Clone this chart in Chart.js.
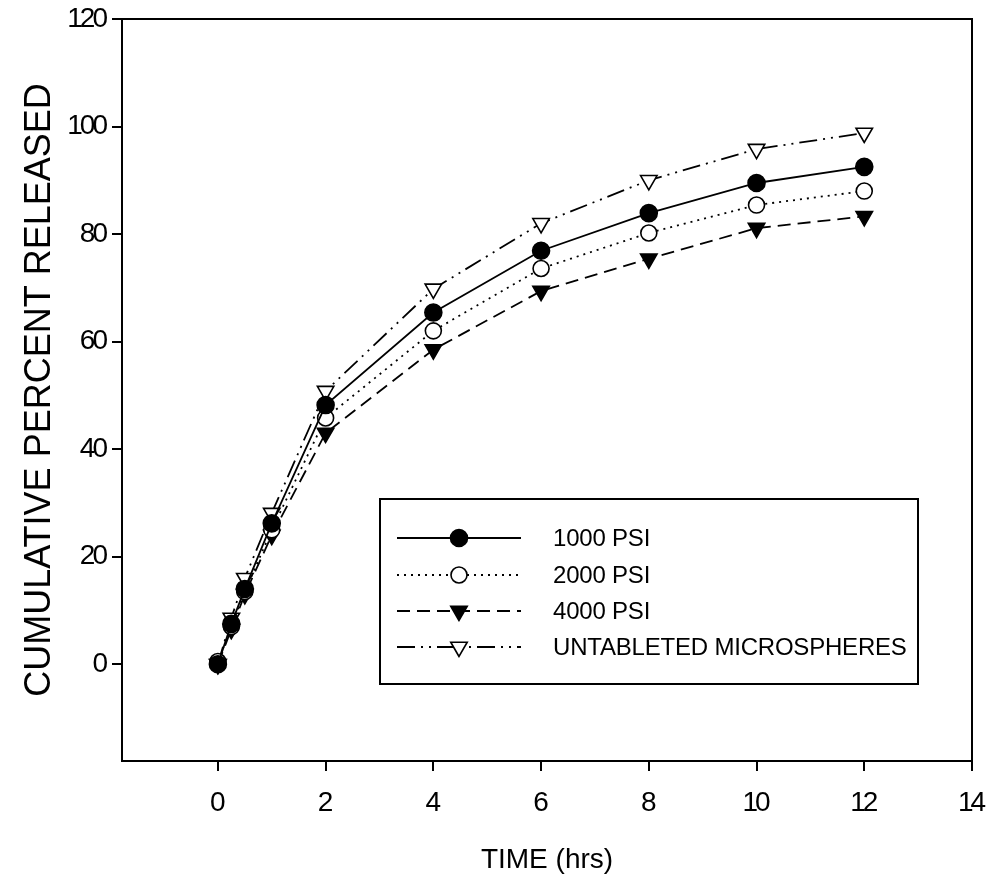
<!DOCTYPE html>
<html>
<head>
<meta charset="utf-8">
<title>Cumulative percent released</title>
<script src="https://cdn.jsdelivr.net/npm/chart.js@4/dist/chart.umd.min.js"></script>
<style>
  html, body { margin: 0; padding: 0; background: #fff; }
  canvas { display: block; }
</style>
</head>
<body>
<canvas id="myChart" width="992" height="888"></canvas>
<script>
// data
const times = [0, 0.25, 0.5, 1, 2, 4, 6, 8, 10, 12];
const psi1000 = [0, 7.5, 14, 26.2, 48.2, 65.4, 76.9, 83.9, 89.5, 92.5];
const psi2000 = [0.5, 7, 13.5, 25, 45.8, 62.0, 73.6, 80.2, 85.4, 88.0];
const psi4000 = [0, 6.5, 13, 24, 43.0, 58.5, 69.4, 75.4, 81.1, 83.3];
const untableted = [0, 8.6, 16, 28.1, 50.8, 69.8, 82.0, 90.0, 95.8, 98.8];
const seriesLabels = ['1000 PSI', '2000 PSI', '4000 PSI', 'UNTABLETED MICROSPHERES'];
const xTicks = [0, 2, 4, 6, 8, 10, 12, 14];
const yTicks = [0, 20, 40, 60, 80, 100, 120];

const FONT = "'Liberation Sans', Arial, sans-serif";

const looks = [
  { dash: [], style: 'circle', fill: '#000', radius: 8.5, rotation: 0 },
  { dash: [2, 5], style: 'circle', fill: '#fff', radius: 8, rotation: 0 },
  { dash: [13, 7], style: 'triangle', fill: '#000', radius: 9.5, rotation: 180 },
  { dash: [18, 6, 2, 6, 2, 6], style: 'triangle', fill: '#fff', radius: 9.5, rotation: 180 },
];

function makeSet(label, values, look) {
  return {
    label: label,
    data: times.map((t, i) => ({ x: t, y: values[i] })),
    borderColor: '#000',
    borderWidth: 1.8,
    borderDash: look.dash,
    pointStyle: look.style,
    pointRotation: look.rotation,
    pointRadius: look.radius,
    pointBackgroundColor: look.fill,
    pointBorderColor: '#000',
    pointBorderWidth: 1.6,
    fill: false,
    tension: 0,
  };
}

function drawMarker(ctx, look, x, y) {
  ctx.save();
  ctx.setLineDash([]);
  ctx.fillStyle = look.fill;
  ctx.strokeStyle = '#000';
  ctx.lineWidth = 1.6;
  ctx.beginPath();
  if (look.style === 'circle') {
    ctx.arc(x, y, look.radius, 0, Math.PI * 2);
  } else {
    let rad = look.rotation * Math.PI / 180;
    for (let k = 0; k < 3; k++) {
      const px = x + Math.sin(rad) * look.radius;
      const py = y - Math.cos(rad) * look.radius;
      if (k === 0) ctx.moveTo(px, py); else ctx.lineTo(px, py);
      rad += Math.PI * 2 / 3;
    }
    ctx.closePath();
  }
  ctx.fill();
  ctx.stroke();
  ctx.restore();
}

// top and right edges of the frame
const frame = {
  id: 'frame',
  beforeDatasetsDraw(chart) {
    const { ctx, chartArea: a } = chart;
    ctx.save();
    ctx.strokeStyle = '#000';
    ctx.lineWidth = 2;
    ctx.beginPath();
    ctx.moveTo(a.left - 1, a.top);
    ctx.lineTo(a.right, a.top);
    ctx.lineTo(a.right, a.bottom + 1);
    ctx.stroke();
    ctx.restore();
  }
};

// tick labels, set tight like the original
const tickLabels = {
  id: 'tickLabels',
  afterDraw(chart) {
    const { ctx, scales: { x, y } } = chart;
    ctx.save();
    ctx.fillStyle = '#000';
    ctx.font = '28px ' + FONT;
    ctx.letterSpacing = '-3px';
    ctx.textBaseline = 'middle';
    ctx.textAlign = 'center';
    xTicks.forEach((v) => {
      ctx.fillText(String(v), x.getPixelForValue(v) - 1.5, x.top + 42);
    });
    ctx.textAlign = 'right';
    yTicks.forEach((v) => {
      ctx.fillText(String(v), y.right - 17, y.getPixelForValue(v));
    });
    ctx.restore();
  }
};

// boxed legend with line samples
const legendBox = {
  id: 'legendBox',
  afterDatasetsDraw(chart) {
    const ctx = chart.ctx;
    const box = { left: 380, top: 499, right: 918, bottom: 684 };
    ctx.save();
    ctx.fillStyle = '#fff';
    ctx.fillRect(box.left, box.top, box.right - box.left, box.bottom - box.top);
    ctx.strokeStyle = '#000';
    ctx.lineWidth = 2;
    ctx.strokeRect(box.left, box.top, box.right - box.left, box.bottom - box.top);
    const rows = [538, 575, 611, 647];
    rows.forEach((ry, i) => {
      const look = looks[i];
      ctx.setLineDash(look.dash);
      ctx.lineWidth = 1.8;
      ctx.beginPath();
      ctx.moveTo(397, ry);
      ctx.lineTo(521, ry);
      ctx.stroke();
      drawMarker(ctx, look, 459, ry);
      ctx.setLineDash([]);
      ctx.fillStyle = '#000';
      ctx.font = '24px ' + FONT;
      ctx.letterSpacing = '-0.2px';
      ctx.textBaseline = 'middle';
      ctx.textAlign = 'left';
      ctx.fillText(chart.data.datasets[i].label, 553, ry + 1);
    });
    ctx.restore();
  }
};

const ctx = document.getElementById('myChart').getContext('2d');
const myChart = new Chart(ctx, {
  type: 'line',
  data: {
    datasets: [
      makeSet(seriesLabels[0], psi1000, looks[0]),
      makeSet(seriesLabels[1], psi2000, looks[1]),
      makeSet(seriesLabels[2], psi4000, looks[2]),
      makeSet(seriesLabels[3], untableted, looks[3]),
    ],
  },
  options: {
    responsive: false,
    animation: false,
    layout: { padding: { top: 19, right: 20, left: 0, bottom: 0 } },
    plugins: {
      legend: { display: false },
      tooltip: { enabled: false },
    },
    scales: {
      x: {
        type: 'linear',
        min: -1.78,
        max: 14,
        afterBuildTicks: (axis) => { axis.ticks = xTicks.map(v => ({ value: v })); },
        afterFit: (axis) => {
          axis.height = 127;
          axis.paddingLeft = 0;
          axis.paddingRight = 0;
        },
        grid: { drawOnChartArea: false, tickLength: 10, color: '#000', lineWidth: 2 },
        border: { display: true, color: '#000', width: 2 },
        ticks: { display: false },
        title: {
          display: true,
          text: 'TIME (hrs)',
          color: '#000',
          font: { family: FONT, size: 28, lineHeight: 1 },
          padding: { top: 0, bottom: 14 },
        },
      },
      y: {
        min: -18,
        max: 120,
        afterBuildTicks: (axis) => { axis.ticks = yTicks.map(v => ({ value: v })); },
        afterFit: (axis) => {
          axis.width = 122;
          axis.paddingTop = 0;
          axis.paddingBottom = 0;
        },
        grid: { drawOnChartArea: false, tickLength: 10, color: '#000', lineWidth: 2 },
        border: { display: true, color: '#000', width: 2 },
        ticks: { display: false },
        title: {
          display: true,
          text: 'CUMULATIVE PERCENT RELEASED',
          color: '#000',
          font: { family: FONT, size: 36, lineHeight: 1 },
          padding: { top: 22, bottom: 0 },
        },
      },
    },
  },
  plugins: [frame, tickLabels, legendBox],
});
</script>
</body>
</html>
